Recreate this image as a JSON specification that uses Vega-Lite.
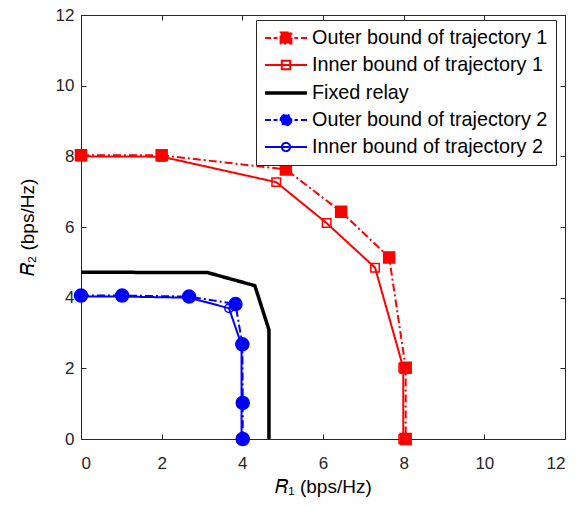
{
  "$schema": "https://vega.github.io/schema/vega-lite/v6.json",
  "width": 484,
  "height": 424,
  "autosize": "none",
  "padding": {"left": 81, "top": 15, "right": 21, "bottom": 67},
  "background": "white",
  "data": {
    "values": [
      {"series": "Outer bound of trajectory 1", "R1": 0, "R2": 8.03},
      {"series": "Outer bound of trajectory 1", "R1": 2.0, "R2": 8.03},
      {"series": "Outer bound of trajectory 1", "R1": 5.08, "R2": 7.63},
      {"series": "Outer bound of trajectory 1", "R1": 6.45, "R2": 6.43},
      {"series": "Outer bound of trajectory 1", "R1": 7.64, "R2": 5.14},
      {"series": "Outer bound of trajectory 1", "R1": 8.05, "R2": 2.02},
      {"series": "Outer bound of trajectory 1", "R1": 8.05, "R2": 0},
      {"series": "Inner bound of trajectory 1", "R1": 0, "R2": 8.0},
      {"series": "Inner bound of trajectory 1", "R1": 2.0, "R2": 7.99},
      {"series": "Inner bound of trajectory 1", "R1": 4.84, "R2": 7.27},
      {"series": "Inner bound of trajectory 1", "R1": 6.09, "R2": 6.11},
      {"series": "Inner bound of trajectory 1", "R1": 7.29, "R2": 4.85},
      {"series": "Inner bound of trajectory 1", "R1": 7.99, "R2": 2.02},
      {"series": "Inner bound of trajectory 1", "R1": 7.99, "R2": 0},
      {"series": "Fixed relay", "R1": 0, "R2": 4.72},
      {"series": "Fixed relay", "R1": 3.14, "R2": 4.71},
      {"series": "Fixed relay", "R1": 4.31, "R2": 4.34},
      {"series": "Fixed relay", "R1": 4.66, "R2": 3.09},
      {"series": "Fixed relay", "R1": 4.66, "R2": 0},
      {"series": "Outer bound of trajectory 2", "R1": 0, "R2": 4.06},
      {"series": "Outer bound of trajectory 2", "R1": 1.02, "R2": 4.06},
      {"series": "Outer bound of trajectory 2", "R1": 2.68, "R2": 4.03},
      {"series": "Outer bound of trajectory 2", "R1": 3.83, "R2": 3.82},
      {"series": "Outer bound of trajectory 2", "R1": 4.0, "R2": 2.68},
      {"series": "Outer bound of trajectory 2", "R1": 4.01, "R2": 1.02},
      {"series": "Outer bound of trajectory 2", "R1": 4.01, "R2": 0},
      {"series": "Inner bound of trajectory 2", "R1": 0, "R2": 4.03},
      {"series": "Inner bound of trajectory 2", "R1": 1.02, "R2": 4.03},
      {"series": "Inner bound of trajectory 2", "R1": 2.68, "R2": 4.0},
      {"series": "Inner bound of trajectory 2", "R1": 3.67, "R2": 3.7},
      {"series": "Inner bound of trajectory 2", "R1": 3.98, "R2": 2.66},
      {"series": "Inner bound of trajectory 2", "R1": 3.98, "R2": 1.0},
      {"series": "Inner bound of trajectory 2", "R1": 3.98, "R2": 0}
    ]
  },
  "resolve": {"axis": {"x": "independent", "y": "independent"}},
  "layer": [
    {
      "mark": {"type": "line", "strokeJoin": "miter", "strokeCap": "butt"},
      "encoding": {
        "x": {"field": "R1", "type": "quantitative", "scale": {"domain": [0, 12], "nice": false},
          "axis": {"orient": "bottom", "values": [0, 2, 4, 6, 8, 10, 12], "title": "𝑅₁ (bps/Hz)", "labelPadding": 21, "titlePadding": 6}},
        "y": {"field": "R2", "type": "quantitative", "scale": {"domain": [0, 12], "nice": false},
          "axis": {"orient": "left", "values": [0, 2, 4, 6, 8, 10, 12], "title": "𝑅₂ (bps/Hz)", "labelPadding": 12, "titlePadding": 18}},
        "order": {"value": null},
        "color": {"field": "series", "type": "nominal",
          "scale": {"domain": ["Outer bound of trajectory 1", "Inner bound of trajectory 1", "Fixed relay", "Outer bound of trajectory 2", "Inner bound of trajectory 2"],
            "range": ["#ff0000", "#ff0000", "#000000", "#0000ff", "#0000ff"]},
          "legend": {
            "orient": "none", "legendX": 175, "legendY": 5, "title": null, "padding": 8,
            "strokeColor": "#262626", "fillColor": "#ffffff",
            "labelFont": "Liberation Sans", "labelFontSize": 19.8, "labelColor": "#000000", "labelLimit": 400,
            "labelOffset": 15, "symbolOffset": 11, "rowPadding": 7, "symbolSize": 324, "symbolType": "stroke", "symbolStrokeWidth": 2,
            "encode": {"symbols": {"update": {
              "shape": {"signal": "['M-2.333,0H-1.667M-1.389,0H-0.944M-0.6,-0.6H0.6V0.6H-0.6ZM0.944,0H1.333M1.667,0H2.333','M-2.333,0H2.333M-0.467,-0.467H0.467V0.467H-0.467Z','M-2.333,0H2.333','M-2.333,0H-1.667M-1.389,0H-0.944M0.6,0L0.554,0.23L0.424,0.424L0.23,0.554L0,0.6L-0.23,0.554L-0.424,0.424L-0.554,0.23L-0.6,0L-0.554,-0.23L-0.424,-0.424L-0.23,-0.554L0,-0.6L0.23,-0.554L0.424,-0.424L0.554,-0.23ZM0.944,0H1.333M1.667,0H2.333','M-2.333,0H2.333M0.467,0L0.431,0.179L0.33,0.33L0.179,0.431L0,0.467L-0.179,0.431L-0.33,0.33L-0.431,0.179L-0.467,0L-0.431,-0.179L-0.33,-0.33L-0.179,-0.431L0,-0.467L0.179,-0.431L0.33,-0.33L0.431,-0.179Z'][datum.index]"},
              "fill": {"signal": "['#ff0000','transparent','transparent','#0000ff','transparent'][datum.index]"},
              "strokeWidth": {"signal": "[2,2,3.5,2,2][datum.index]"},
              "strokeDash": {"signal": "[1,0]"}
            }}}
          }},
        "strokeDash": {"field": "series", "type": "nominal",
          "scale": {"domain": ["Outer bound of trajectory 1", "Inner bound of trajectory 1", "Fixed relay", "Outer bound of trajectory 2", "Inner bound of trajectory 2"],
            "range": [[8, 3, 2, 3], [1, 0], [1, 0], [8, 3, 2, 3], [1, 0]]}, "legend": null},
        "strokeWidth": {"field": "series", "type": "nominal",
          "scale": {"type": "ordinal", "domain": ["Outer bound of trajectory 1", "Inner bound of trajectory 1", "Fixed relay", "Outer bound of trajectory 2", "Inner bound of trajectory 2"],
            "range": [2, 2, 3.5, 2, 2]}, "legend": null}
      }
    },
    {
      "transform": [{"filter": "datum.series != 'Fixed relay'"}],
      "mark": {"type": "point", "opacity": 1, "strokeWidth": 1.5},
      "encoding": {
        "x": {"field": "R1", "type": "quantitative", "axis": {"orient": "top", "values": [0, 2, 4, 6, 8, 10, 12], "labels": false, "title": null}},
        "y": {"field": "R2", "type": "quantitative", "axis": {"orient": "right", "values": [0, 2, 4, 6, 8, 10, 12], "labels": false, "title": null}},
        "shape": {"field": "series", "type": "nominal",
          "scale": {"domain": ["Outer bound of trajectory 1", "Inner bound of trajectory 1", "Outer bound of trajectory 2", "Inner bound of trajectory 2"],
            "range": ["square", "square", "circle", "circle"]}, "legend": null},
        "fill": {"field": "series", "type": "nominal",
          "scale": {"domain": ["Outer bound of trajectory 1", "Inner bound of trajectory 1", "Outer bound of trajectory 2", "Inner bound of trajectory 2"],
            "range": ["#ff0000", "transparent", "#0000ff", "transparent"]}, "legend": null},
        "stroke": {"field": "series", "type": "nominal",
          "scale": {"domain": ["Outer bound of trajectory 1", "Inner bound of trajectory 1", "Outer bound of trajectory 2", "Inner bound of trajectory 2"],
            "range": ["#ff0000", "#ff0000", "#0000ff", "#0000ff"]}, "legend": null},
        "size": {"field": "series", "type": "nominal",
          "scale": {"type": "ordinal", "domain": ["Outer bound of trajectory 1", "Inner bound of trajectory 1", "Outer bound of trajectory 2", "Inner bound of trajectory 2"],
            "range": [121, 72, 169, 72]}, "legend": null}
      }
    }
  ],
  "config": {
    "view": {"stroke": "#262626", "strokeWidth": 1},
    "font": "Liberation Sans",
    "axis": {
      "grid": false,
      "labelFont": "Liberation Sans", "labelFontSize": 17, "labelColor": "#262626",
      "titleFont": "Liberation Sans", "titleFontSize": 19, "titleFontWeight": "normal", "titleColor": "#000000",
      "domainColor": "#262626", "tickColor": "#262626", "tickSize": -5, "labelPadding": 11
    }
  }
}
